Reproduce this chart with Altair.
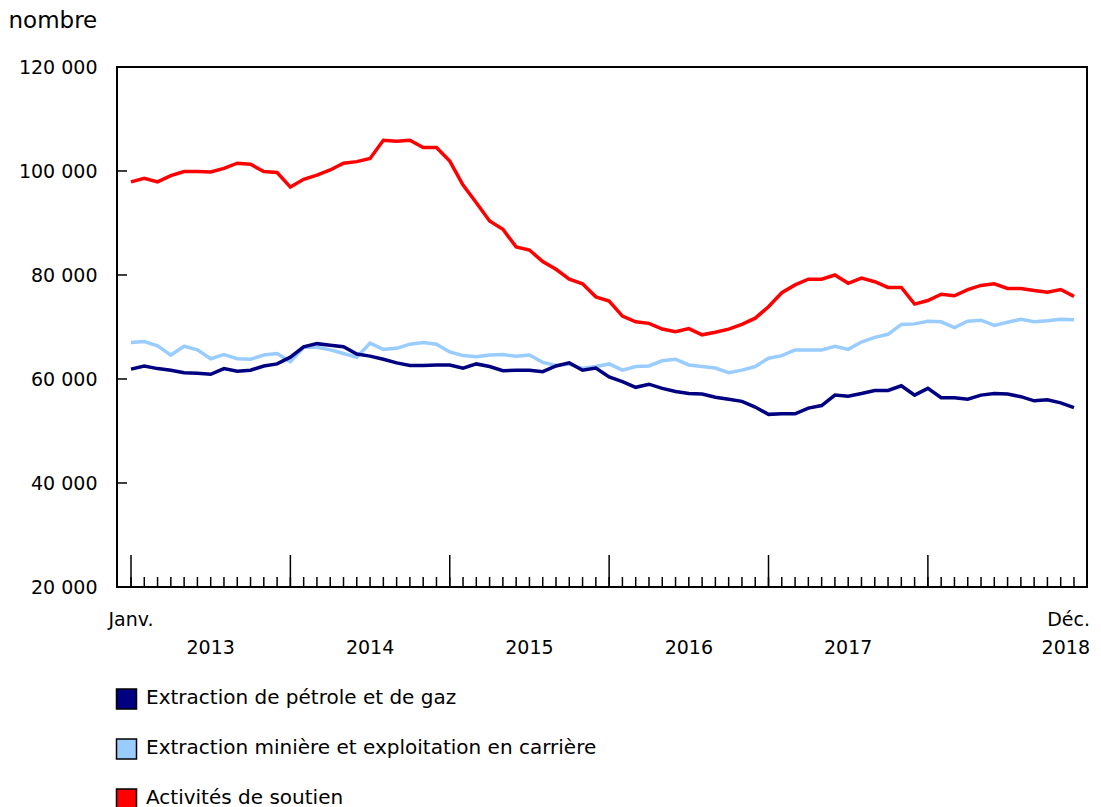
import altair as alt
import pandas as pd

series_names = [
    "Extraction de pétrole et de gaz",
    "Extraction minière et exploitation en carrière",
    "Activités de soutien",
]
series_colors = ["#000080", "#99CCFF", "#FF0000"]

months = list(range(72))  # Jan 2013 .. Dec 2018

oil_gas = [61900, 62500, 62000, 61700, 61200, 61100, 60900, 62000, 61500, 61700, 62500, 62900,
           64200, 66200, 66800, 66500, 66200, 64800, 64400, 63800, 63100, 62600, 62600, 62700,
           62700, 62100, 62900, 62400, 61600, 61700, 61700, 61400, 62500, 63100, 61700, 62100,
           60400, 59500, 58400, 59000, 58200, 57600, 57200, 57100, 56500, 56100, 55700, 54600,
           53200, 53300, 53300, 54400, 54900, 56900, 56700, 57200, 57800, 57800, 58700, 56900,
           58200, 56400, 56400, 56100, 56900, 57200, 57100, 56600, 55800, 56000, 55400, 54500]

mining = [67000, 67200, 66400, 64600, 66300, 65600, 63900, 64700, 63900, 63800, 64600, 64900,
          63300, 66100, 66100, 65600, 64900, 64200, 66900, 65700, 65900, 66700, 67000, 66700,
          65200, 64500, 64300, 64600, 64700, 64400, 64600, 63200, 62600, 62900, 62000, 62400,
          62900, 61700, 62400, 62500, 63500, 63800, 62700, 62400, 62100, 61200, 61700, 62400,
          64000, 64500, 65600, 65600, 65600, 66300, 65700, 67100, 68000, 68600, 70500, 70600,
          71100, 71000, 69900, 71100, 71300, 70300, 70900, 71500, 71000, 71200, 71500, 71400]

support = [97900, 98600, 97900, 99100, 99900, 99900, 99800, 100500, 101500, 101300, 99900, 99700,
           96900, 98400, 99200, 100200, 101500, 101800, 102400, 105900, 105700, 105900, 104500, 104500,
           101900, 97300, 93900, 90400, 88800, 85400, 84800, 82600, 81100, 79200, 78300, 75800,
           75000, 72100, 71000, 70700, 69600, 69100, 69700, 68500, 69000, 69600, 70500, 71700,
           73900, 76600, 78100, 79200, 79200, 80000, 78400, 79400, 78700, 77600, 77600, 74400,
           75100, 76300, 76000, 77200, 78000, 78300, 77400, 77400, 77000, 76700, 77200, 75900]

y_ticks = [20000, 40000, 60000, 80000, 100000, 120000]
major_ticks = [0, 12, 24, 36, 48, 60]
start_label, end_label = "Janv.", "Déc."
year_labels = ["2013", "2014", "2015", "2016", "2017"]
year_pos = [6, 18, 30, 42, 54]
last_year = "2018"

FONT = "DejaVu Sans"
W, H = 970, 520

rows = []
for name, vals in [(series_names[2], support), (series_names[1], mining), (series_names[0], oil_gas)]:
    for m, v in zip(months, vals):
        rows.append({"m": m, "v": v, "s": name})
df = pd.DataFrame(rows)

xscale = alt.Scale(domain=[-1.054, 71.98], nice=False, zero=False)
yscale = alt.Scale(domain=[20000, 120000], nice=False, zero=False)
cscale = alt.Scale(domain=series_names, range=series_colors)

yaxis = alt.Axis(
    values=y_ticks, ticks=False, domain=False, grid=False,
    labelPadding=20, labelFont=FONT, labelFontSize=19, labelColor="black",
    labelExpr="replace(format(datum.value, ','), ',', ' ')",
    title="nombre", titleAngle=0, titleAlign="left", titleBaseline="alphabetic",
    titleX=-109, titleY=-40, titleFont=FONT, titleFontSize=23,
    titleFontWeight="normal", titleColor="black",
)

lines = alt.Chart(df).mark_line(strokeWidth=3.5).encode(
    x=alt.X("m:Q", scale=xscale, axis=None),
    y=alt.Y("v:Q", scale=yscale, axis=yaxis),
    color=alt.Color("s:N", scale=cscale, legend=None),
)

ytick_layer = alt.Chart(pd.DataFrame({"v": y_ticks})).mark_rule(color="black", strokeWidth=1.5).encode(
    y=alt.Y("v:Q", scale=yscale, axis=yaxis), x=alt.value(0), x2=alt.value(10))

minor_layer = alt.Chart(pd.DataFrame({"m": months})).mark_rule(color="black", strokeWidth=1.5).encode(
    x=alt.X("m:Q", scale=xscale, axis=None), y=alt.value(H - 10), y2=alt.value(H))

major_layer = alt.Chart(pd.DataFrame({"m": major_ticks})).mark_rule(color="black", strokeWidth=1.5).encode(
    x=alt.X("m:Q", scale=xscale, axis=None), y=alt.value(H - 32), y2=alt.value(H))

def text_layer(pos, texts, yval, align="center", dx=0):
    return alt.Chart(pd.DataFrame({"m": pos, "t": texts})).mark_text(
        font=FONT, fontSize=19, color="black", baseline="middle", align=align, dx=dx).encode(
        x=alt.X("m:Q", scale=xscale, axis=None), y=alt.value(yval), text="t:N")

start_layer = text_layer([months[0]], [start_label], H + 33)
end_layer = text_layer([months[-1]], [end_label], H + 33, align="right", dx=16)
year_layer = text_layer(year_pos, year_labels, H + 61)
last_year_layer = text_layer([months[-1]], [last_year], H + 61, align="right", dx=16)

legend_layers = []
for k, name in enumerate(series_names):
    ldf = pd.DataFrame({"s": [name]})
    legend_layers.append(
        alt.Chart(ldf).mark_square(size=400, filled=True, stroke="black", strokeWidth=1.5, opacity=1).encode(
            x=alt.value(9.5), y=alt.value(632 + 50 * k),
            color=alt.Color("s:N", scale=cscale, legend=None))
    )
    legend_layers.append(
        alt.Chart(ldf).mark_text(font=FONT, fontSize=20, color="black", align="left", baseline="middle").encode(
            x=alt.value(29), y=alt.value(631 + 50 * k), text="s:N")
    )

chart = alt.layer(lines, ytick_layer, minor_layer, major_layer, start_layer, end_layer,
                  year_layer, last_year_layer, *legend_layers).properties(
    width=W, height=H,
    autosize=alt.AutoSizeParams(type="none"),
    padding={"left": 109, "top": 59, "right": 6, "bottom": 220},
).configure_view(stroke="black", strokeWidth=2)

chart.save("out.html", embed_options={"renderer": "svg", "actions": False})
